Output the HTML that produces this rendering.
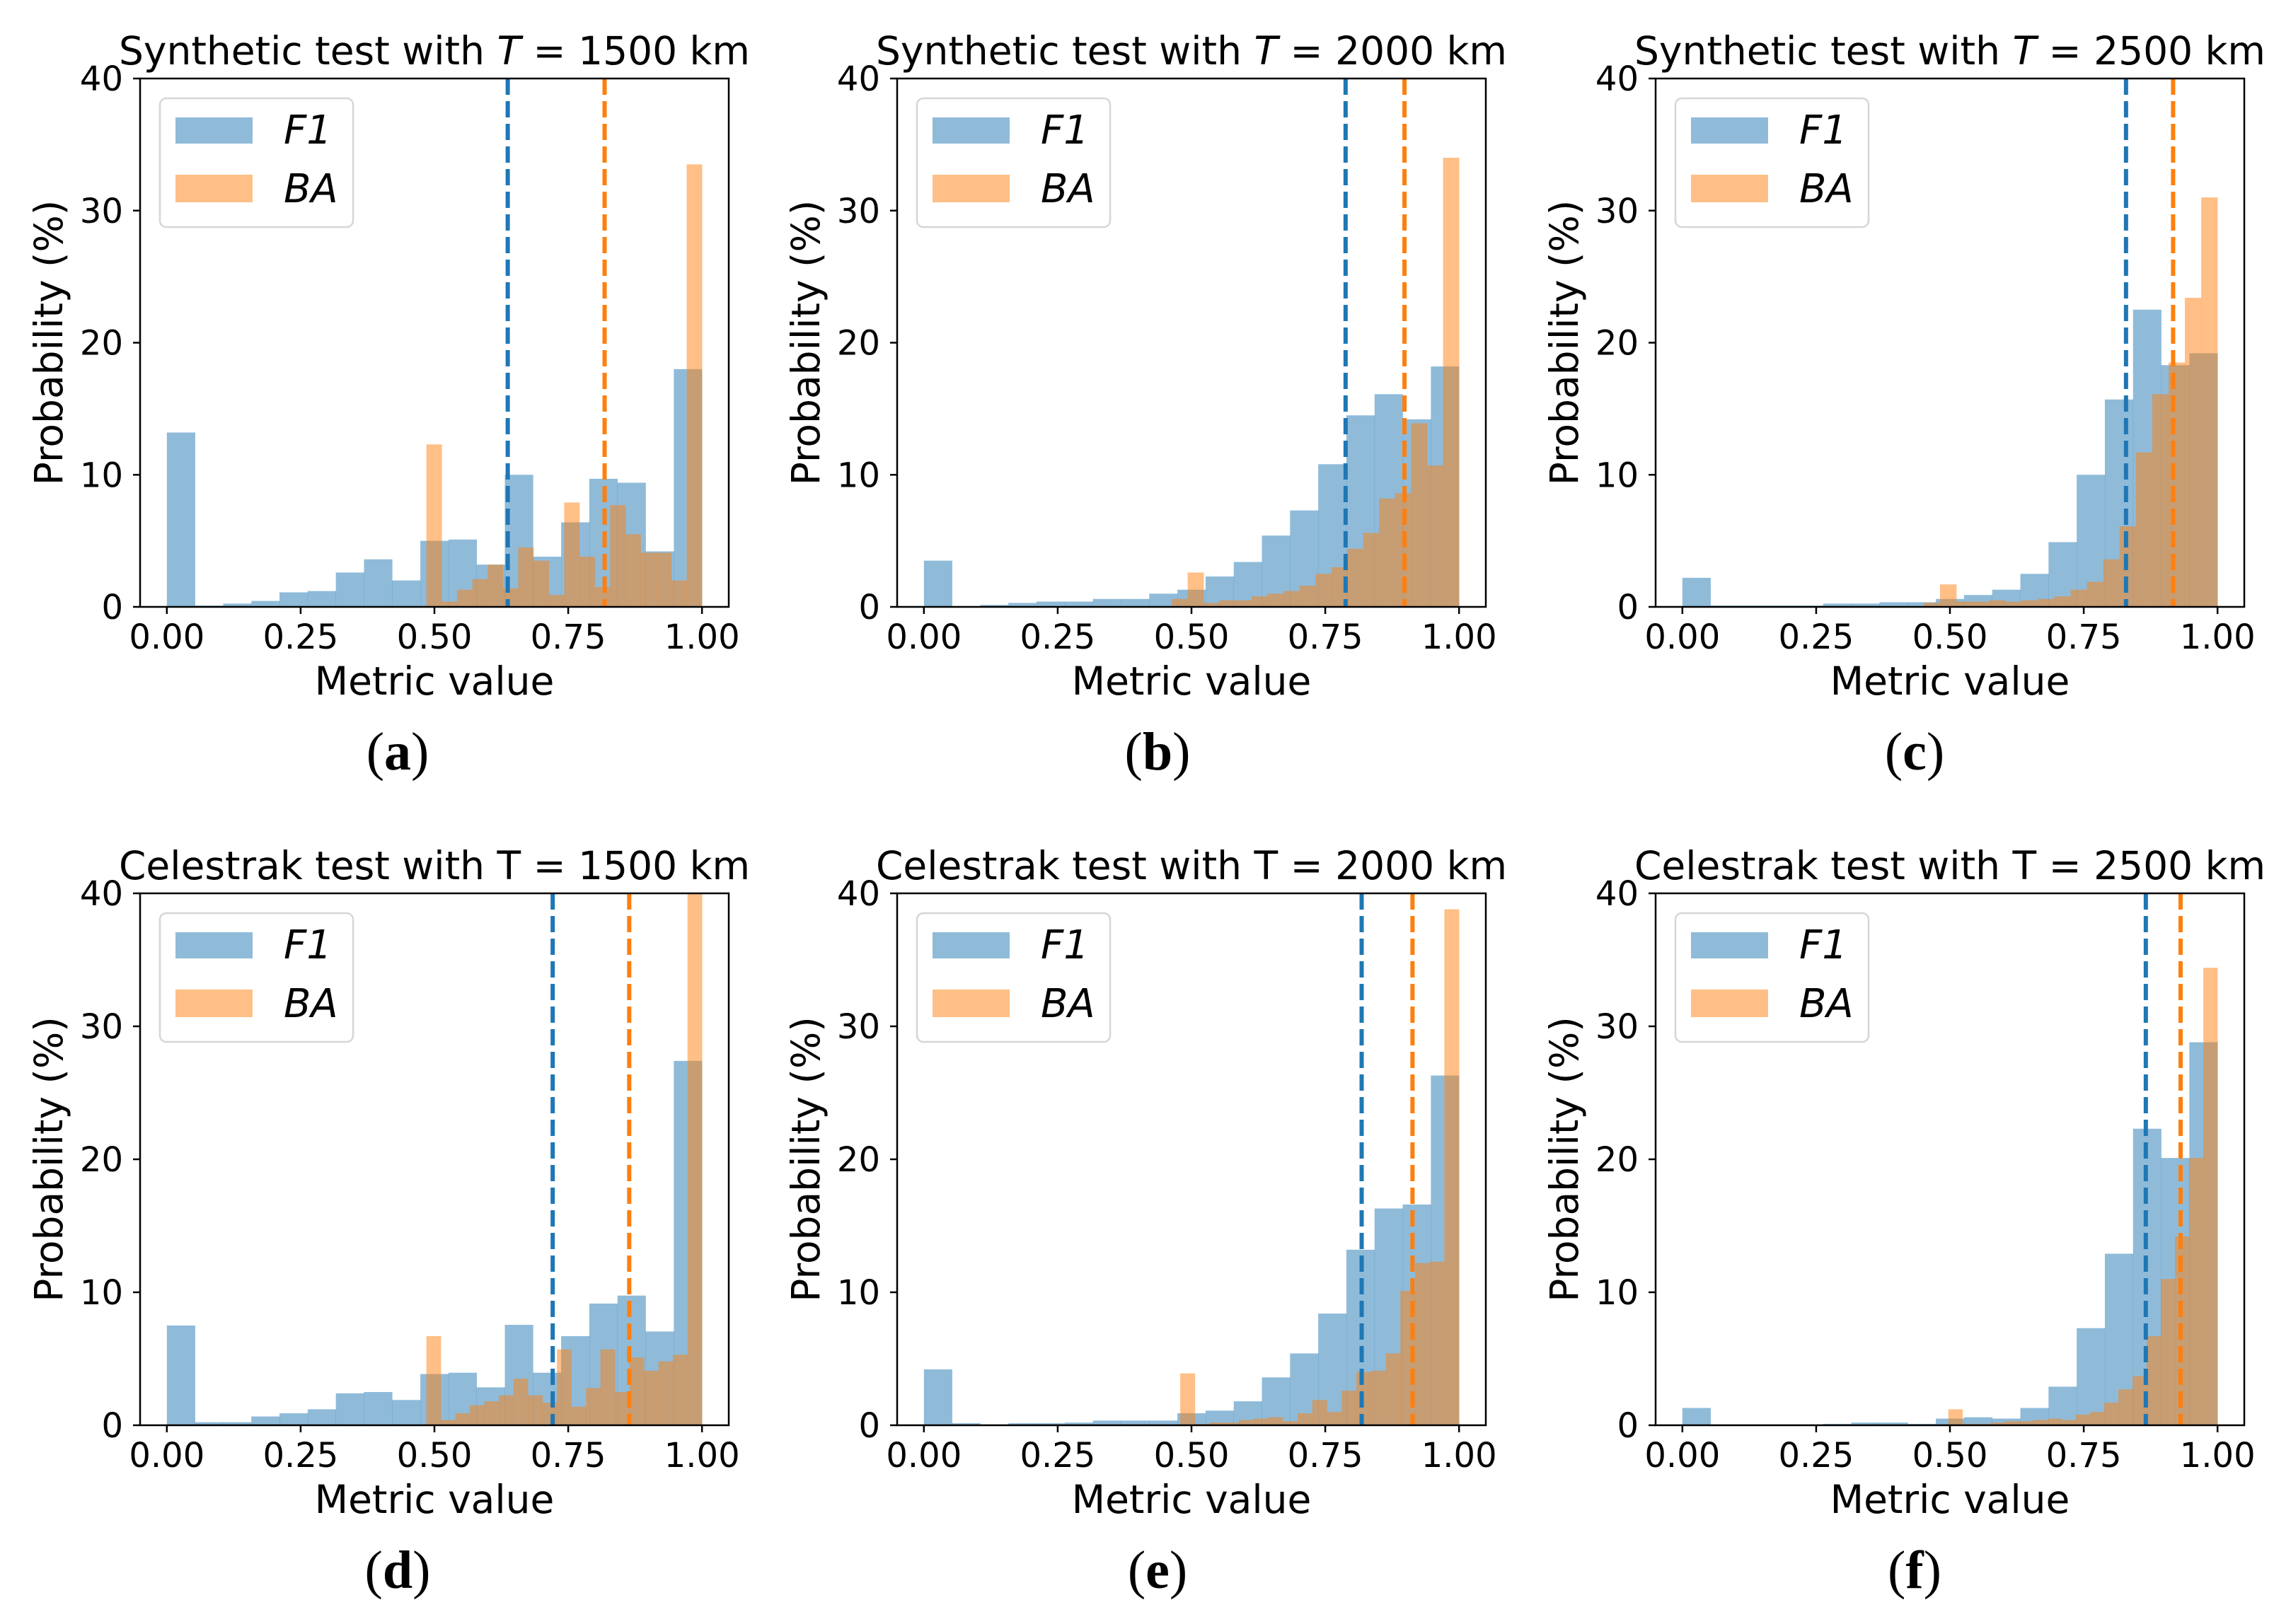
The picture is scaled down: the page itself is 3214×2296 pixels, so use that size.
<!DOCTYPE html>
<html><head><meta charset="utf-8">
<style>
html,body{margin:0;padding:0;background:#fff;}
svg{display:block;font-family:"DejaVu Sans","Liberation Sans",sans-serif;}
</style></head>
<body>
<svg id="fig" width="3214" height="2296" viewBox="0 0 3214 2296" xmlns="http://www.w3.org/2000/svg"></svg>
<script>
const panelLetters = ['a','b','c','d','e','f'];
const panelKinds = ['Synthetic','Synthetic','Synthetic','Celestrak','Celestrak','Celestrak'];
const panelT = ['1500','2000','2500','1500','2000','2500'];
const xTicks = [0, 0.25, 0.5, 0.75, 1.0];
const xTickLabels = ['0.00','0.25','0.50','0.75','1.00'];
const yTicks = [0, 10, 20, 30, 40];
const yTickLabels = ['0','10','20','30','40'];

const f1_a = [13.2,0.1,0.25,0.45,1.1,1.2,2.6,3.6,2.0,5.0,5.1,3.2,10.0,3.8,6.4,9.7,9.4,4.2,18.0];
const ba_a = [12.3,0.4,1.3,2.1,3.2,1.4,4.5,3.5,0.9,7.9,3.8,1.5,7.7,5.5,4.1,4.1,2.0,33.5];
const f1_b = [3.5,0,0.15,0.3,0.4,0.4,0.6,0.6,1.0,1.3,2.3,3.4,5.4,7.3,10.8,14.5,16.1,14.2,18.2];
const ba_b = [0.6,2.6,0.3,0.5,0.5,0.8,1.0,1.2,1.6,2.5,3.0,4.4,5.6,8.2,8.6,13.9,10.7,34.0];
const f1_c = [2.2,0.1,0.1,0.1,0.1,0.25,0.25,0.35,0.35,0.6,0.9,1.3,2.5,4.9,10.0,15.7,22.5,18.3,19.2];
const ba_c = [0.3,1.7,0.4,0.4,0.5,0.4,0.5,0.6,0.8,1.3,1.9,3.6,6.1,11.7,16.1,18.5,23.4,31.0];
const f1_d = [7.5,0.23,0.23,0.66,0.9,1.2,2.4,2.5,1.9,3.85,3.95,2.85,7.55,3.95,6.7,9.15,9.75,7.05,27.4];
const ba_d = [6.7,0.4,0.9,1.5,1.8,2.25,3.5,2.25,1.7,5.7,1.4,2.8,5.7,2.5,5.1,4.1,4.8,5.3,41.0];
const f1_e = [4.2,0.15,0.05,0.15,0.15,0.2,0.35,0.35,0.35,0.9,1.1,1.8,3.6,5.4,8.4,13.2,16.3,16.6,26.3];
const ba_e = [3.9,0.1,0.2,0.2,0.4,0.5,0.6,0.3,0.9,1.9,1.0,2.6,4.0,4.1,5.4,10.1,12.2,12.3,38.8];
const f1_f = [1.3,0,0,0,0.05,0.1,0.2,0.2,0.1,0.5,0.6,0.5,1.3,2.9,7.3,12.9,22.3,20.1,28.8];
const ba_f = [1.2,0.1,0.1,0.2,0.3,0.3,0.4,0.5,0.4,0.8,1.0,1.7,2.7,3.7,6.7,11.0,14.2,20.1,34.4];

const f1Series = [f1_a,f1_b,f1_c,f1_d,f1_e,f1_f];
const baSeries = [ba_a,ba_b,ba_c,ba_d,ba_e,ba_f];
const f1Min = [0,0,0,0,0,0];
const baMin = [0.485,0.463,0.451,0.485,0.479,0.497];
const f1Mean = [0.637,0.788,0.829,0.721,0.818,0.866];
const baMean = [0.818,0.898,0.917,0.864,0.913,0.931];

const NS = 'http://www.w3.org/2000/svg';
const svg = document.getElementById('fig');
function mk(tag, attrs, parent){
  const e = document.createElementNS(NS, tag);
  for (const k in attrs) e.setAttribute(k, attrs[k]);
  (parent||svg).appendChild(e);
  return e;
}
const colLeft = [198, 1268, 2340];
const colCaption = [562, 1636, 2706];
const rowTop = [111, 1263];
const rowH = [747, 752];
const AW = 832;

for (let p = 0; p < 6; p++) {
  const col = p % 3, row = Math.floor(p / 3);
  const L = colLeft[col], T = rowTop[row], H = rowH[row], B = T + H;
  const xS = v => L + (v + 0.05) / 1.1 * AW;
  const yS = v => B - v / 40 * H;
  const g = mk('g', {});
  
  

  const clipId = 'clip' + p;
  const cp = mk('clipPath', {id: clipId}, g);
  mk('rect', {x: L, y: T, width: AW, height: H}, cp);
  const plot = mk('g', {'clip-path': 'url(#' + clipId + ')'}, g);

  const f1 = f1Series[p];
  const fw = (1 - f1Min[p]) / f1.length;
  f1.forEach((v, i) => {
    const x0 = xS(f1Min[p] + i * fw), x1 = xS(f1Min[p] + (i + 1) * fw);
    const r = mk('rect', {x: x0, y: yS(v), width: x1 - x0 + 0.3, height: yS(0) - yS(v), fill: '#1f77b4', 'fill-opacity': 0.5}, plot);
    
    
  });
  const ba = baSeries[p];
  const bw = (1 - baMin[p]) / ba.length;
  ba.forEach((v, i) => {
    const x0 = xS(baMin[p] + i * bw), x1 = xS(baMin[p] + (i + 1) * bw);
    const r = mk('rect', {x: x0, y: yS(v), width: x1 - x0 + 0.3, height: yS(0) - yS(v), fill: '#ff7f0e', 'fill-opacity': 0.5}, plot);
    
    
  });
  const l1 = mk('line', {x1: xS(f1Mean[p]), x2: xS(f1Mean[p]), y1: T, y2: B, stroke: '#1f77b4', 'stroke-width': 6, 'stroke-dasharray': '23 9'}, plot);
  
  
  const l2 = mk('line', {x1: xS(baMean[p]), x2: xS(baMean[p]), y1: T, y2: B, stroke: '#ff7f0e', 'stroke-width': 6, 'stroke-dasharray': '23 9'}, plot);
  
  

  const fr = mk('rect', {x: L, y: T, width: AW, height: H, fill: 'none', stroke: '#000', 'stroke-width': 2.5}, g);
  
  

  xTicks.forEach((v, i) => {
    mk('line', {x1: xS(v), x2: xS(v), y1: B, y2: B + 10, stroke: '#000', 'stroke-width': 2.5}, g);
    const t = mk('text', {x: xS(v), y: B + 59, 'font-size': 48, 'text-anchor': 'middle', fill: '#000'}, g);
    t.textContent = xTickLabels[i];
    
    
  });
  yTicks.forEach((v, i) => {
    mk('line', {x1: L - 10, x2: L, y1: yS(v), y2: yS(v), stroke: '#000', 'stroke-width': 2.5}, g);
    const t = mk('text', {x: L - 24, y: yS(v) + 17, 'font-size': 48, 'text-anchor': 'end', fill: '#000'}, g);
    t.textContent = yTickLabels[i];
    
    
  });
  const xt = mk('text', {x: L + AW / 2, y: B + 124, 'font-size': 55, 'text-anchor': 'middle', fill: '#000'}, g);
  xt.textContent = 'Metric value';
  
  
  const yx = L - 110, yy = T + H / 2;
  const yt = mk('text', {x: yx, y: yy, 'font-size': 55, 'text-anchor': 'middle', fill: '#000', transform: 'rotate(-90 ' + yx + ' ' + yy + ')'}, g);
  yt.textContent = 'Probability (%)';
  
  

  const tt = mk('text', {x: L + AW / 2, y: T - 20, 'font-size': 55, 'text-anchor': 'middle', fill: '#000'}, g);
  
  
  const s1 = mk('tspan', {}, tt); s1.textContent = panelKinds[p] + ' test with ';
  const s2 = mk('tspan', panelKinds[p] === 'Synthetic' ? {'font-style': 'italic'} : {}, tt); s2.textContent = 'T';
  const s3 = mk('tspan', {}, tt); s3.textContent = ' = ' + panelT[p] + ' km';

  const lg = mk('g', {}, g);
  
  
  mk('rect', {x: L + 28, y: T + 28, width: 273, height: 182, rx: 9, fill: '#fff', 'fill-opacity': 0.8, stroke: '#d6d6d6', 'stroke-width': 2.5}, lg);
  const e1 = mk('rect', {x: L + 50, y: T + 55, width: 109, height: 37, fill: '#1f77b4', 'fill-opacity': 0.5}, lg);
  
  
  const e2 = mk('rect', {x: L + 50, y: T + 136, width: 109, height: 39, fill: '#ff7f0e', 'fill-opacity': 0.5}, lg);
  
  
  const lt1 = mk('text', {x: L + 203, y: T + 92, 'font-size': 56, 'font-style': 'italic', fill: '#000'}, lg);
  lt1.textContent = 'F1';
  
  
  const lt2 = mk('text', {x: L + 203, y: T + 175, 'font-size': 56, 'font-style': 'italic', fill: '#000'}, lg);
  lt2.textContent = 'BA';
  
  

  const cap = mk('text', {x: colCaption[col], y: B + 230, 'font-size': 76, 'text-anchor': 'middle', fill: '#000', 'font-family': '"Liberation Serif","DejaVu Serif",serif'}, g);
  
  
  const c1 = mk('tspan', {}, cap); c1.textContent = '(';
  const c2 = mk('tspan', {'font-weight': 'bold'}, cap); c2.textContent = panelLetters[p];
  const c3 = mk('tspan', {}, cap); c3.textContent = ')';
}
</script>
</body></html>
